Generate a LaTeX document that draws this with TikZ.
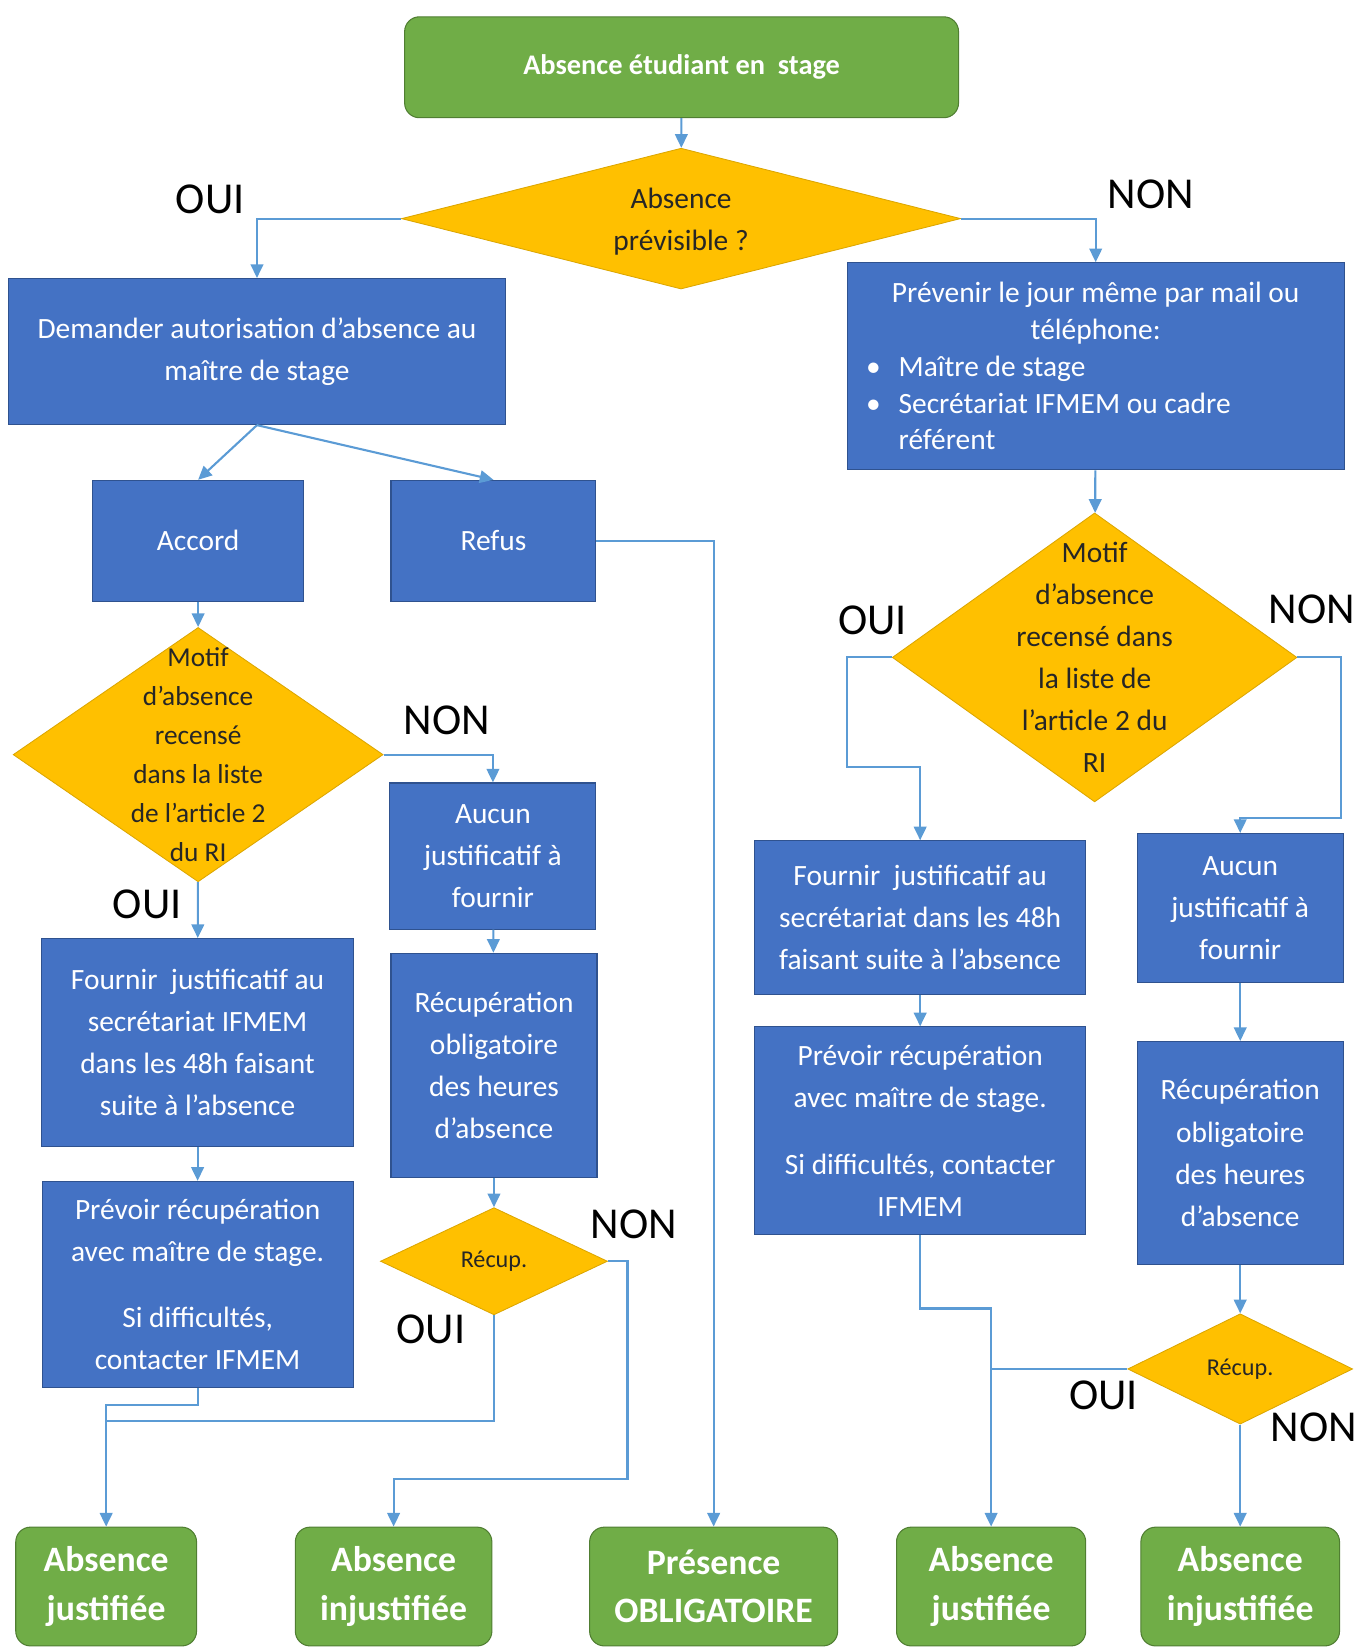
\documentclass[tikz,border=0pt]{standalone}
\usepackage{fontspec}
\setmainfont{Carlito}
\usepackage{xcolor}
\usepackage{tikz}
\usetikzlibrary{shapes.geometric,arrows.meta}

\definecolor{ofblue}{HTML}{4472C4}
\definecolor{ofblueline}{HTML}{2F528F}
\definecolor{ofgreen}{HTML}{70AD47}
\definecolor{ofgreenline}{HTML}{507E32}
\definecolor{ofgold}{HTML}{FFC000}
\definecolor{ofgoldline}{HTML}{DCA600}
\definecolor{arrline}{HTML}{5B9BD5}

\tikzset{
	box/.style={rectangle, fill=ofblue, draw=ofblueline, line width=1pt, text=white, align=center, inner sep=0pt, font=\fontsize{28}{40}\selectfont},
	endbox/.style={rectangle, rounded corners=14pt, fill=ofgreen, draw=ofgreenline, line width=1pt, text=white, align=center, inner sep=0pt, font=\fontsize{34}{46}\selectfont\bfseries},
	decision/.style={diamond, fill=ofgold, draw=ofgoldline, line width=0.8pt, inner sep=0pt},
	dectext/.style={align=center, text=black!85, inner sep=0pt, font=\fontsize{28}{40}\selectfont},
	answer/.style={inner sep=0pt, font=\fontsize{42}{42}\selectfont},
	conn/.style={draw=arrline, line width=2pt},
	arr/.style={conn, -{Triangle[length=13pt,width=12pt]}},
}

\begin{document}
\begin{tikzpicture}[x=1pt,y=-1pt]
	\useasboundingbox (0,0) rectangle (1293,1568);

	% top and first question
	\node[endbox, minimum width=527pt, minimum height=96pt, font=\fontsize{27}{32}\selectfont\bfseries] (start) at (648.5,64) {Absence étudiant en\ \ stage};
	\node[decision, minimum width=532pt, minimum height=134pt] (previs) at (648,208) {};
	\node[dectext] (previs-t) at (648,211) {Absence\\prévisible ?};

	% left branch
	\node[box, minimum width=473pt, minimum height=139pt] (demande) at (244.5,334.5) {Demander autorisation d’absence au\\maître de stage};
	\node[box, minimum width=201pt, minimum height=115pt] (accord) at (188.5,514.5) {Accord};
	\node[box, minimum width=195pt, minimum height=115pt] (refus) at (469.5,514.5) {Refus};

	\node[decision, minimum width=352pt, minimum height=242pt] (motifA) at (188.5,718) {};
	\node[dectext, font=\fontsize{26}{37}\selectfont] (motifA-t) at (motifA) {Motif\\d’absence\\recensé\\dans la liste\\de l’article 2\\du RI};

	\node[box, minimum width=196pt, minimum height=139pt] (aucunA) at (469,814.5) {Aucun\\justificatif à\\fournir};
	\node[box, minimum width=196pt, minimum height=213pt] (recupA) at (470,1013.5) {Récupération\\obligatoire\\des heures\\d’absence};
	\node[decision, minimum width=216pt, minimum height=102pt] (recupdA) at (470,1200) {};
	\node[dectext, font=\fontsize{23}{28}\selectfont] (recupdA-t) at (recupdA) {Récup.};

	\node[box, minimum width=297pt, minimum height=198pt] (fournirA) at (188,992) {Fournir\ \ justificatif au\\secrétariat IFMEM\\dans les 48h faisant\\suite à l’absence};
	\node[box, minimum width=296pt, minimum height=196pt] (prevoirA) at (188,1222) {Prévoir récupération\\avec maître de stage.\\[23pt]Si difficultés,\\contacter IFMEM};

	% right branch
	\node[box, minimum width=473pt, minimum height=197pt, align=left, font=\fontsize{28}{35}\selectfont] (prevenir) at (1042.5,348.5) {%
		\makebox[455pt]{Prévenir le jour même par mail ou}\\
		\makebox[455pt]{téléphone:}\\
		\hspace*{9pt}\makebox[31pt][l]{\textbullet}Maître de stage\\
		\hspace*{9pt}\makebox[31pt][l]{\textbullet}Secrétariat IFMEM ou cadre\\
		\hspace*{40pt}référent};

	\node[decision, minimum width=385pt, minimum height=275pt] (motifB) at (1041.5,625.5) {};
	\node[dectext] (motifB-t) at (motifB) {Motif\\d’absence\\recensé dans\\la liste de\\l’article 2 du\\RI};

	\node[box, minimum width=315pt, minimum height=146pt] (fournirB) at (875.5,873) {Fournir\ \ justificatif au\\secrétariat dans les 48h\\faisant suite à l’absence};
	\node[box, minimum width=315pt, minimum height=198pt] (prevoirB) at (875.5,1076) {Prévoir récupération\\avec maître de stage.\\[23pt]Si difficultés, contacter\\IFMEM};
	\node[box, minimum width=196pt, minimum height=142pt] (aucunB) at (1180,864) {Aucun\\justificatif à\\fournir};
	\node[box, minimum width=196pt, minimum height=212pt] (recupB) at (1180,1097) {Récupération\\obligatoire\\des heures\\d’absence};
	\node[decision, minimum width=214pt, minimum height=105pt] (recupdB) at (1180,1302.5) {};
	\node[dectext, font=\fontsize{23}{28}\selectfont] (recupdB-t) at (recupdB) {Récup.};

	% outcomes
	\node[endbox, minimum width=172pt, minimum height=113pt] (justA) at (101,1509.5) {Absence\\justifiée};
	\node[endbox, minimum width=187pt, minimum height=113pt] (injustA) at (374.5,1509.5) {Absence\\injustifiée};
	\node[endbox, minimum width=236pt, minimum height=113pt] (presence) at (679,1509.5) {Présence\\OBLIGATOIRE};
	\node[endbox, minimum width=180pt, minimum height=113pt] (justB) at (943,1509.5) {Absence\\justifiée};
	\node[endbox, minimum width=189pt, minimum height=113pt] (injustB) at (1180,1509.5) {Absence\\injustifiée};

	% OUI / NON
	\node[answer] (ouiA) at (200,190) {OUI};
	\node[answer] (nonA) at (1095,185) {NON};
	\node[answer] (nonB) at (425,685) {NON};
	\node[answer] (ouiB) at (140,860) {OUI};
	\node[answer] (nonC) at (603,1165) {NON};
	\node[answer] (ouiC) at (410,1265) {OUI};
	\node[answer] (ouiD) at (830,590) {OUI};
	\node[answer] (nonD) at (1248,580) {NON};
	\node[answer] (ouiE) at (1050,1328) {OUI};
	\node[answer] (nonE) at (1250,1358) {NON};

	% bends
	\coordinate (k1) at (597,1407);
	\coordinate (k2) at (101,1352);
	\coordinate (k3) at (101,1337);
	\coordinate (k4) at (806,730);
	\coordinate (k5) at (1276,778);
	\coordinate (k6) at (943,1245);
	\coordinate (k7) at (943,1302.5);

	\draw[arr] (start) -- (previs);
	\draw[arr] (previs.west) -| (demande.north);
	\draw[arr] (previs.east) -| (prevenir.north);
	\draw[arr] (demande.south) -- (accord.north);
	\draw[arr] (demande.south) -- (refus.north);
	\draw[arr] (refus.east) -| (presence.north);
	\draw[arr] (accord) -- (motifA);
	\draw[arr] (motifA.east) -| (aucunA.north);
	\draw[arr] (motifA) -- (fournirA);
	\draw[arr] (aucunA) -- (recupA);
	\draw[arr] (recupA) -- (recupdA);
	\draw[arr] (fournirA) -- (prevoirA);
	\draw[arr] (recupdA.east) -| (k1) -| (injustA.north);
	\draw[arr] (recupdA.south) |- (k2) -- (justA.north);
	\draw[conn] (prevoirA.south) |- (k3) -- (k2);

	\draw[arr] (prevenir) -- (motifB);
	\draw[arr] (motifB.west) -| (k4) -| (fournirB.north);
	\draw[arr] (motifB.east) -| (k5) -| (aucunB.north);
	\draw[arr] (fournirB) -- (prevoirB);
	\draw[arr] (aucunB) -- (recupB);
	\draw[arr] (recupB) -- (recupdB);
	\draw[arr] (prevoirB.south) |- (k6) -- (justB.north);
	\draw[conn] (recupdB.west) -- (k7);
	\draw[arr] (recupdB) -- (injustB);
\end{tikzpicture}
\end{document}
